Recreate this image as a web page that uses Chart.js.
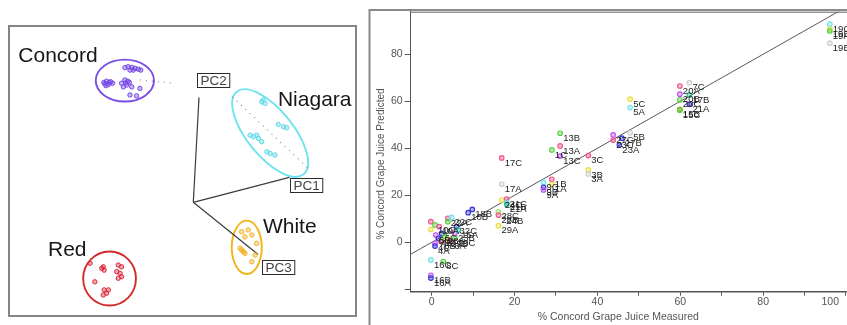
<!DOCTYPE html>
<html>
<head>
<meta charset="utf-8">
<script src="https://cdn.jsdelivr.net/npm/chart.js@4.4.1/dist/chart.umd.min.js"></script>
<style>
  html, body { margin: 0; padding: 0; background: #fff; overflow: hidden; width: 847px; height: 325px; }
  #pca { position: absolute; left: 0; top: 0; width: 362px; height: 325px; }
  #fit { position: absolute; left: 365px; top: 0; width: 495px; height: 340px; }
</style>
</head>
<body>
<div id="pca"><canvas id="pcaCanvas"></canvas></div>
<div id="fit"><canvas id="fitCanvas"></canvas></div>
<script>
Chart.defaults.font.family = "'Liberation Sans', Arial, Helvetica, sans-serif";

// ================= PCA scores (left panel) =================
const pcaGroups = ['Concord', 'Niagara', 'White', 'Red'];
const concordX = [-22.8, -21.7, -20.5, -19.4, -18.3, -17.5, -21.1, -20.0, -29.8, -28.9, -28.3, -27.5, -26.9, -29.1, -28.0, -29.5, -23.9, -22.8, -22.2, -21.3, -20.5, -23.3, -22.5, -21.8, -21.1, -18.9, -17.8];
const concordY = [44.9, 45.2, 45.0, 44.7, 44.4, 44.1, 44.1, 44.1, 40.0, 40.4, 39.3, 40.2, 39.7, 38.9, 40.0, 39.5, 39.7, 40.8, 39.1, 40.0, 38.5, 38.5, 39.8, 40.4, 35.8, 35.5, 38.0];
const niagaraX = [23.3, 23.9, 22.8, 30.0, 31.1, 28.3, 21.1, 21.7, 20.0, 22.8, 24.5, 25.6, 27.2, 18.9];
const niagaraY = [34.1, 33.0, 33.5, 25.2, 24.9, 26.0, 22.4, 21.3, 21.9, 20.2, 16.9, 16.3, 15.8, 22.4];
const whiteX = [16.1, 18.3, 19.5, 17.2, 16.1, 16.7, 17.2, 15.6, 21.1, 20.6, 19.5];
const whiteY = [-9.8, -9.2, -10.9, -11.5, -15.9, -16.5, -17.0, -15.3, -13.7, -17.6, -19.8];
const redX = [-30.5, -29.7, -30.0, -25.0, -23.9, -25.5, -24.4, -23.9, -25.0, -29.7, -28.9, -30.0, -28.3, -32.8, -34.4];
const redY = [-22.0, -22.6, -21.5, -20.9, -21.5, -23.1, -23.7, -24.8, -25.3, -29.2, -30.3, -30.9, -29.2, -26.5, -20.3];

// confidence region of each variety: centre, semi-axes (score units), tilt (degrees)
const regionX = [-22.8, 25.6, 17.8, -27.9];
const regionY = [40.6, 23.1, -15.0, -25.4];
const regionA = [9.7, 17.7, 5.0, 8.8];
const regionB = [7.0, 7.7, 8.9, 9.0];
const regionTilt = [0, 51, 0, 0];

// principal component axes, from the origin to each tip
const pcNames = ['PC1', 'PC2', 'PC3'];
const pcTipX = [32.0, 1.9, 21.6];
const pcTipY = [8.3, 35.0, -17.4];

// dotted projection lines
const projAX = [-17.8, 13.0], projAY = [40.8, 35.2];
const projBX = [-6.1, 38.3],  projBY = [39.7, 11.3];

// annotation anchors (score units)
const nameX = [-58.3, 28.2, 23.2, -48.4];
const nameY = [46.8, 32.1, -10.2, -17.9];
const pcTagX = [32.2, 1.2, 22.9];
const pcTagY = [5.8, 40.8, -21.6];

const groupColors = ['#7646e6', '#5fd8e6', '#f0b020', '#d8283a'];
const regionColors = ['#7a4ee6', '#6fe3ee', '#f2b418', '#d42a2a'];

function pts(xs, ys) { return xs.map((x, i) => ({ x: x, y: ys[i] })); }
function fade(hex, a) {
  const n = parseInt(hex.slice(1), 16);
  return 'rgba(' + (n >> 16 & 255) + ',' + (n >> 8 & 255) + ',' + (n & 255) + ',' + a + ')';
}

const groupData = [pts(concordX, concordY), pts(niagaraX, niagaraY), pts(whiteX, whiteY), pts(redX, redY)];
const pcaSets = groupData.map((d, i) => ({
  type: 'scatter', label: pcaGroups[i], data: d,
  pointRadius: 2.2, borderWidth: 1, borderColor: groupColors[i], backgroundColor: fade(groupColors[i], 0.4)
}));
pcNames.forEach((n, i) => pcaSets.push({
  type: 'line', label: n, data: [{ x: 0, y: 0 }, { x: pcTipX[i], y: pcTipY[i] }],
  borderColor: '#3c3c3c', borderWidth: 1.2, pointRadius: 0, fill: false
}));
projAX.forEach((x, i) => pcaSets.push({
  type: 'line', label: 'proj' + i, data: [{ x: projAX[i], y: projAY[i] }, { x: projBX[i], y: projBY[i] }],
  borderColor: '#8c8c8c', borderWidth: 1.2, borderDash: [1, 5], pointRadius: 0, fill: false
}));

const pcaDecor = {
  id: 'pcaDecor',
  beforeDatasetsDraw(chart) {
    const { ctx, chartArea: a, scales: { x, y } } = chart;
    ctx.save();
    regionX.forEach((cx, i) => {
      const px = x.getPixelForValue(cx), py = y.getPixelForValue(regionY[i]);
      const ra = Math.abs(x.getPixelForValue(cx + regionA[i]) - px);
      const rb = Math.abs(y.getPixelForValue(regionY[i] + regionB[i]) - py);
      ctx.beginPath();
      ctx.ellipse(px, py, ra, rb, regionTilt[i] * Math.PI / 180, 0, Math.PI * 2);
      ctx.strokeStyle = regionColors[i];
      ctx.lineWidth = 1.9;
      ctx.stroke();
    });
    ctx.strokeStyle = '#858585';
    ctx.lineWidth = 2;
    ctx.strokeRect(a.left, a.top, a.right - a.left, a.bottom - a.top);
    ctx.restore();
  },
  afterDatasetsDraw(chart) {
    const { ctx, scales: { x, y } } = chart;
    ctx.save();
    ctx.fillStyle = '#161616';
    ctx.font = '21px ' + Chart.defaults.font.family;
    ctx.textBaseline = 'alphabetic';
    ctx.textAlign = 'left';
    pcaGroups.forEach((g, i) => ctx.fillText(g, x.getPixelForValue(nameX[i]), y.getPixelForValue(nameY[i])));
    ctx.font = '13.5px ' + Chart.defaults.font.family;
    ctx.textBaseline = 'middle';
    pcNames.forEach((n, i) => {
      const px = Math.round(x.getPixelForValue(pcTagX[i])) + 0.5;
      const py = Math.round(y.getPixelForValue(pcTagY[i])) + 0.5;
      const w = ctx.measureText(n).width + 6;
      ctx.fillStyle = '#ffffff';
      ctx.fillRect(px, py - 7, w, 14);
      ctx.strokeStyle = '#2c2c2c';
      ctx.lineWidth = 1;
      ctx.strokeRect(px, py - 7, w, 14);
      ctx.fillStyle = '#444';
      ctx.fillText(n, px + 3, py + 0.5);
    });
    ctx.restore();
  }
};

new Chart(document.getElementById('pcaCanvas'), {
  type: 'scatter',
  data: { datasets: pcaSets },
  options: {
    responsive: true, maintainAspectRatio: false, animation: false, events: [],
    layout: { padding: { left: 9, right: 6, top: 26, bottom: 9 } },
    plugins: { legend: { display: false }, tooltip: { enabled: false } },
    scales: {
      x: { display: false, min: -61.4, max: 54.2 },
      y: { display: false, min: -37.9, max: 58.8 }
    }
  },
  plugins: [pcaDecor]
});

// ================= Measured vs predicted (right panel) =================
const sampleIds = ['19C', '19B', '19A', '19B',
  '20A', '7C', '20B', '17B', '20C', '21A', '15B', '15C',
  '5C', '5A', '5B', '27C', '27B', '23C', '23A',
  '13B', '13A', '1C', '13C', '3C', '3B', '3A', '17C', '17A',
  '1B', '9C', '1A', '9B', '9A',
  '24C', '21C', '21B', '21A', '18B', '10B', '28C', '28B', '24B', '29A',
  '', '', '10C', '22A', '', '22C', '10A', '6B', '4C', '4A', '6C', '28A', '32C', '23B', '29B', '29C', '15A', '4B', '6A', '8B',
  '16C', '8C', '16B', '16A'];
const measured = [96.1, 96.1, 96.1, 96.1,
  59.9, 62.2, 59.9, 62.2, 59.9, 62.2, 59.9, 59.9,
  47.9, 47.9, 47.9, 43.8, 45.9, 43.8, 45.3,
  31.0, 31.0, 29.0, 31.0, 37.8, 37.8, 37.8, 16.9, 16.9,
  29.0, 27.0, 29.0, 27.0, 27.0,
  16.9, 18.1, 18.1, 18.1, 9.8, 8.8, 16.1, 16.1, 17.3, 16.1,
  -0.2, -0.2, 0.8, 3.9, 3.9, 4.8, 1.8, 1.0, 0.8, 0.8, 2.4, 3.2, 6.0, 5.6, 4.0, 5.6, 6.4, 1.6, 4.7, 2.3,
  -0.2, 2.8, -0.2, -0.2];
const predicted = [92.8, 90.6, 89.9, 84.7,
  66.5, 67.9, 63.0, 62.7, 60.6, 58.7, 56.6, 56.2,
  60.9, 57.3, 46.6, 45.7, 44.3, 43.5, 41.4,
  46.4, 41.0, 39.3, 36.7, 36.9, 30.8, 29.1, 35.9, 24.8,
  26.8, 25.5, 24.7, 23.4, 22.3,
  18.0, 18.4, 17.0, 16.1, 14.0, 12.6, 13.0, 11.6, 11.0, 7.1,
  8.8, 5.5, 7.4, 10.2, 8.8, 10.6, 6.7, 3.1, -0.4, -1.6, 3.8, 2.4, 6.7, 3.8, 1.3, 1.7, 5.2, 1.7, 0.3, 0.3,
  -7.5, -8.2, -14.0, -15.2];
// reference line through the cloud
const lineX = [-6, 103];
const lineY = [-6, 103];
const xTickLabels = [0, 20, 40, 60, 80, 100];

// marker colours, one per sample
const palette = { pink: '#f2508f', yellow: '#ece040', green: '#55d040', lightgreen: '#a0e860', cyan: '#72e4ea',
  blue: '#3434d4', violet: '#c052f2', gray: '#cfcfcf', teal: '#26c09a', olive: '#b0961a', darkred: '#9c2d44' };
const dotColor = ['cyan', 'yellow', 'green', 'gray',
  'pink', 'gray', 'violet', 'teal', 'green', 'blue', 'olive', 'green',
  'yellow', 'cyan', 'gray', 'violet', 'blue', 'pink', 'blue',
  'green', 'pink', 'green', 'violet', 'pink', 'yellow', 'gray', 'pink', 'gray',
  'pink', 'cyan', 'yellow', 'blue', 'violet',
  'yellow', 'pink', 'cyan', 'teal', 'blue', 'blue', 'lightgreen', 'pink', 'gray', 'yellow',
  'pink', 'yellow', 'green', 'pink', 'green', 'cyan', 'pink', 'violet', 'violet', 'blue', 'blue', 'green', 'blue', 'violet', 'yellow', 'green', 'teal', 'blue', 'pink', 'darkred',
  'cyan', 'green', 'violet', 'blue'].map(c => palette[c]);

const fitDecor = {
  id: 'fitDecor',
  beforeDraw(chart) {
    const { ctx, width, height } = chart;
    ctx.save();
    ctx.strokeStyle = '#8a8a8a';
    ctx.lineWidth = 2;
    ctx.beginPath();
    ctx.moveTo(4.5, height);
    ctx.lineTo(4.5, 10);
    ctx.lineTo(width, 10);
    ctx.stroke();
    ctx.restore();
  },
  afterDatasetsDraw(chart) {
    const { ctx, chartArea: a, scales: { x, y } } = chart;
    ctx.save();
    // plot frame top edge
    ctx.strokeStyle = '#666';
    ctx.lineWidth = 1;
    ctx.beginPath();
    ctx.moveTo(a.left, a.top + 0.5);
    ctx.lineTo(a.right, a.top + 0.5);
    ctx.stroke();
    // sample labels beside the markers
    ctx.fillStyle = '#1c1c1c';
    ctx.font = '9.5px ' + Chart.defaults.font.family;
    ctx.textAlign = 'left';
    ctx.textBaseline = 'middle';
    sampleIds.forEach((s, i) => {
      if (!s) return;
      ctx.fillText(s, x.getPixelForValue(measured[i]) + 3, y.getPixelForValue(predicted[i]) + 5);
    });
    // x tick labels, kept inside the visible frame
    ctx.fillStyle = '#555';
    ctx.font = '10.5px ' + Chart.defaults.font.family;
    ctx.textAlign = 'center';
    const visibleRight = 474;
    xTickLabels.forEach(v => {
      const t = String(v);
      const w = ctx.measureText(t).width;
      const px = Math.min(x.getPixelForValue(v), visibleRight - w / 2);
      ctx.fillText(t, px, a.bottom + 10);
    });
    // axis titles
    ctx.fillText('% Concord Grape Juice Measured', a.left + 207.6, a.bottom + 25.6);
    ctx.save();
    ctx.translate(16.7, a.top + 152.3);
    ctx.rotate(-Math.PI / 2);
    ctx.font = '10px ' + Chart.defaults.font.family;
    ctx.fillText('% Concord Grape Juice Predicted', 0, 0);
    ctx.restore();
    ctx.restore();
  }
};

new Chart(document.getElementById('fitCanvas'), {
  type: 'scatter',
  data: {
    datasets: [
      {
        type: 'scatter', label: 'samples', data: pts(measured, predicted),
        pointRadius: 2.3, borderWidth: 1.1, borderColor: dotColor,
        backgroundColor: dotColor.map(c => fade(c, 0.4))
      },
      {
        type: 'line', label: 'fit', data: pts(lineX, lineY),
        borderColor: '#5a5a5a', borderWidth: 1, pointRadius: 0, fill: false
      }
    ]
  },
  options: {
    responsive: true, maintainAspectRatio: false, animation: false, events: [],
    layout: { padding: { left: 0, right: 7.8, top: 11.7, bottom: 0 } },
    plugins: { legend: { display: false }, tooltip: { enabled: false } },
    scales: {
      x: {
        type: 'linear', position: 'bottom', min: -5.07, max: 101.5,
        grid: { drawOnChartArea: false, drawTicks: true, tickLength: 4, color: '#555', lineWidth: 1 },
        border: { display: true, color: '#555', width: 1.5 },
        ticks: { display: false, stepSize: 10, includeBounds: false, autoSkip: false },
        afterFit(s) { s.height = 48.3; }
      },
      y: {
        type: 'linear', position: 'left', min: -21, max: 98.1,
        grid: { drawOnChartArea: false, drawTicks: true, tickLength: 6, color: '#555', lineWidth: 1 },
        border: { display: true, color: '#555', width: 1 },
        ticks: {
          stepSize: 20, includeBounds: false, autoSkip: false, padding: 2, color: '#555',
          font: { size: 10.5 },
          callback: v => (v === -20 ? '' : v)
        },
        afterFit(s) { s.width = 45.7; }
      }
    }
  },
  plugins: [fitDecor]
});
</script>
</body>
</html>
